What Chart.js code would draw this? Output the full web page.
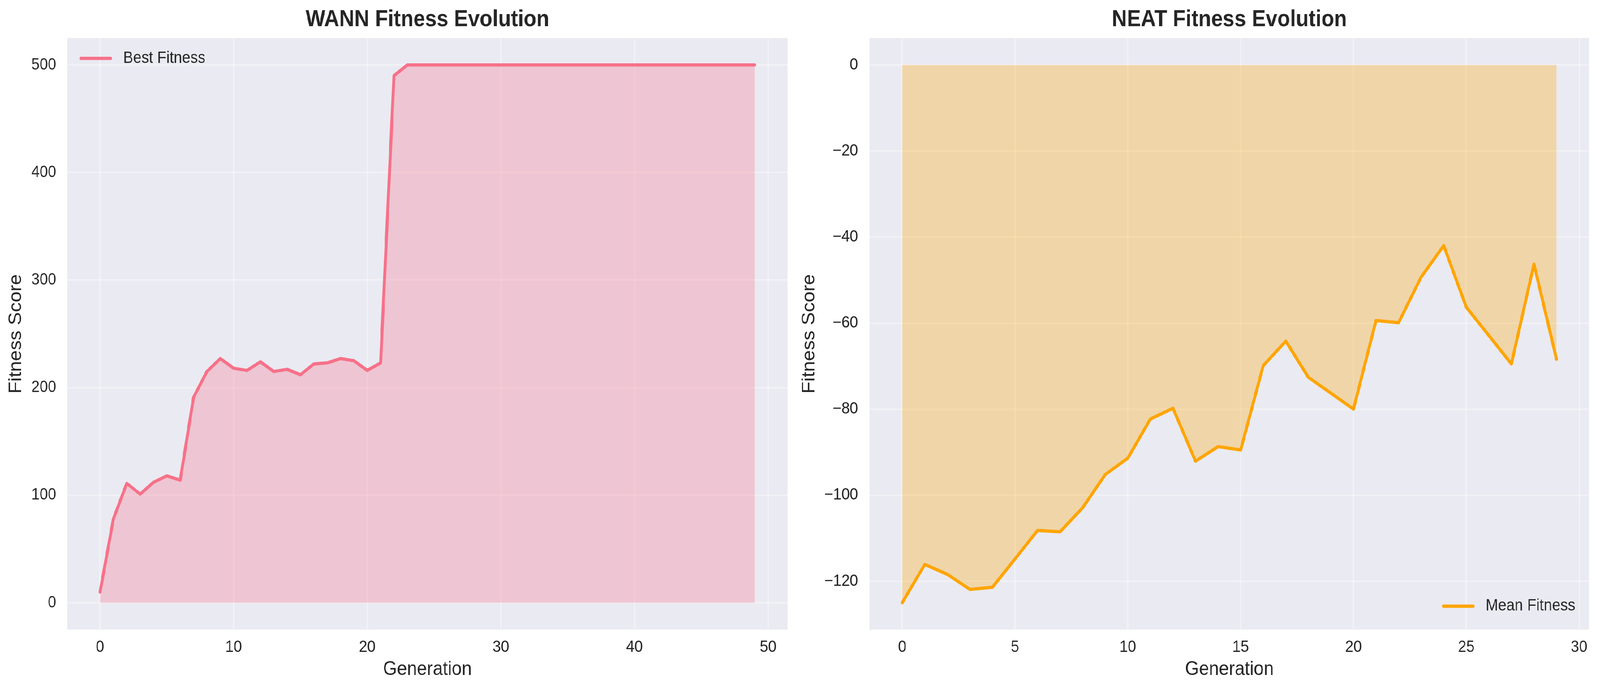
<!DOCTYPE html>
<html>
<head>
<meta charset="utf-8">
<script src="https://cdn.jsdelivr.net/npm/chart.js@4.4.1/dist/chart.umd.min.js"></script>
<style>
  html, body { margin: 0; padding: 0; background: #ffffff; overflow: hidden; }
  #stage { width: 4468px; height: 1768px; position: absolute; left: 0; top: 0; transform-origin: 0 0; }
  canvas { position: absolute; top: 0; }
  #wannChart { left: 0px; }
  #neatChart { left: 2200px; }
</style>
</head>
<body>
<div id="stage">
  <canvas id="wannChart" width="2200" height="1768"></canvas>
  <canvas id="neatChart" width="2268" height="1768"></canvas>
</div>
<script>
// WANN best fitness per generation (0..49)
const wannBest = [
  10, 78, 111, 101, 112, 118, 114, 191, 215, 227,
  218, 216, 224, 215, 217, 212, 222, 223, 227, 225,
  216, 223, 490, 500, 500, 500, 500, 500, 500, 500,
  500, 500, 500, 500, 500, 500, 500, 500, 500, 500,
  500, 500, 500, 500, 500, 500, 500, 500, 500, 500
];

// NEAT mean fitness per generation (0..29)
const neatMean = [
  -125.0, -116.1, -118.4, -121.9, -121.4, -114.8, -108.2, -108.5, -102.9, -95.2,
  -91.4, -82.3, -79.8, -92.1, -88.7, -89.5, -69.9, -64.2, -72.6, -76.3,
  -80.0, -59.4, -59.9, -49.3, -42.0, -56.3, -62.9, -69.5, -46.3, -68.4
];

const FONT = '"Liberation Sans", Arial, Helvetica, sans-serif';
const TEXT = '#262626';
const PINK = '#f77189';
const ORANGE = '#ffa500';

// the window is narrower than 4468 css px (capped), so fit the stage to it
const fitX = window.innerWidth / 4468;
const fitY = window.innerHeight / 1768;
document.getElementById('stage').style.transform = 'scale(' + fitX + ',' + fitY + ')';

// plot background + corner legend
const panelPlugin = {
  id: 'panel',
  beforeDraw(chart) {
    const {ctx, chartArea: a} = chart;
    ctx.save();
    ctx.fillStyle = '#eaeaf2';
    ctx.fillRect(a.left, a.top, a.right - a.left, a.bottom - a.top);
    ctx.restore();
  },
  afterDraw(chart, args, opts) {
    const {ctx, chartArea: a} = chart;
    const ds = chart.data.datasets[0];
    ctx.save();
    ctx.font = '41.7px ' + FONT;
    const tw = ctx.measureText(ds.label).width;
    let lineStart, y;
    if (opts.corner === 'tl') {
      lineStart = a.left + 38;
      y = a.top + 52;
    } else {
      lineStart = a.right - 39 - tw - 35 - 83;
      y = a.bottom - 60;
    }
    ctx.strokeStyle = ds.borderColor;
    ctx.lineWidth = 8.3;
    ctx.lineCap = 'round';
    ctx.beginPath();
    ctx.moveTo(lineStart, y);
    ctx.lineTo(lineStart + 83, y);
    ctx.stroke();
    ctx.fillStyle = TEXT;
    ctx.textBaseline = 'middle';
    ctx.textAlign = 'left';
    ctx.fillText(ds.label, lineStart + 83 + 35, y);
    ctx.restore();
  }
};

function makeChart(id, label, values, color, fillColor, x, y, corner) {
  const ctx = document.getElementById(id).getContext('2d');
  return new Chart(ctx, {
    type: 'line',
    data: {
      datasets: [{
        label: label,
        data: values.map((v, i) => ({x: i, y: v})),
        borderColor: color,
        backgroundColor: fillColor,
        borderWidth: 8.3,
        borderJoinStyle: 'round',
        borderCapStyle: 'round',
        pointRadius: 0,
        tension: 0,
        fill: {value: 0}
      }]
    },
    options: {
      responsive: false,
      animation: false,
      devicePixelRatio: 1,
      layout: { padding: { left: 0, right: x.padRight, top: 0, bottom: 0 } },
      plugins: {
        legend: { display: false },
        tooltip: { enabled: false },
        panel: { corner: corner },
        title: {
          display: true,
          fullSize: false,
          text: x.title,
          color: TEXT,
          font: { family: FONT, size: 58.3, weight: 'bold' },
          padding: { top: 16, bottom: 11.4 }
        }
      },
      scales: {
        x: {
          type: 'linear',
          min: x.min,
          max: x.max,
          afterFit: s => { s.height = 157; },
          ticks: {
            stepSize: x.step,
            includeBounds: false,
            color: TEXT,
            padding: 20,
            font: { family: FONT, size: 41.7 }
          },
          grid: { color: 'rgba(255,255,255,0.35)', lineWidth: 4.2, drawTicks: false },
          border: { display: false },
          title: {
            display: true,
            text: 'Generation',
            color: TEXT,
            font: { family: FONT, size: 50 },
            padding: { top: 0, bottom: 25 }
          }
        },
        y: {
          type: 'linear',
          min: y.min,
          max: y.max,
          afterFit: s => { s.width = y.width; },
          ticks: {
            stepSize: y.step,
            includeBounds: false,
            color: TEXT,
            padding: y.tickPad,
            font: { family: FONT, size: 41.7 },
            callback: v => (v < 0 ? '\u2212' + Math.abs(v) : String(v))
          },
          grid: { color: 'rgba(255,255,255,0.35)', lineWidth: 4.2, drawTicks: false },
          border: { display: false },
          title: {
            display: true,
            text: 'Fitness Score',
            color: TEXT,
            font: { family: FONT, size: 50 },
            padding: { top: y.titlePad, bottom: 0 }
          }
        }
      }
    },
    plugins: [panelPlugin]
  });
}

makeChart('wannChart', 'Best Fitness', wannBest, PINK, 'rgba(247,113,137,0.3)',
  { title: 'WANN Fitness Evolution', min: -2.45, max: 51.45, step: 10, padRight: 1 },
  { min: -25, max: 525, step: 100, width: 188, tickPad: 31, titlePad: 15 },
  'tl');

makeChart('neatChart', 'Mean Fitness', neatMean, ORANGE, 'rgba(255,165,0,0.3)',
  { title: 'NEAT Fitness Evolution', min: -1.45, max: 30.45, step: 5, padRight: 30 },
  { min: -131.25, max: 6.25, step: 20, width: 228, tickPad: 32, titlePad: 30 },
  'br');
</script>
</body>
</html>
